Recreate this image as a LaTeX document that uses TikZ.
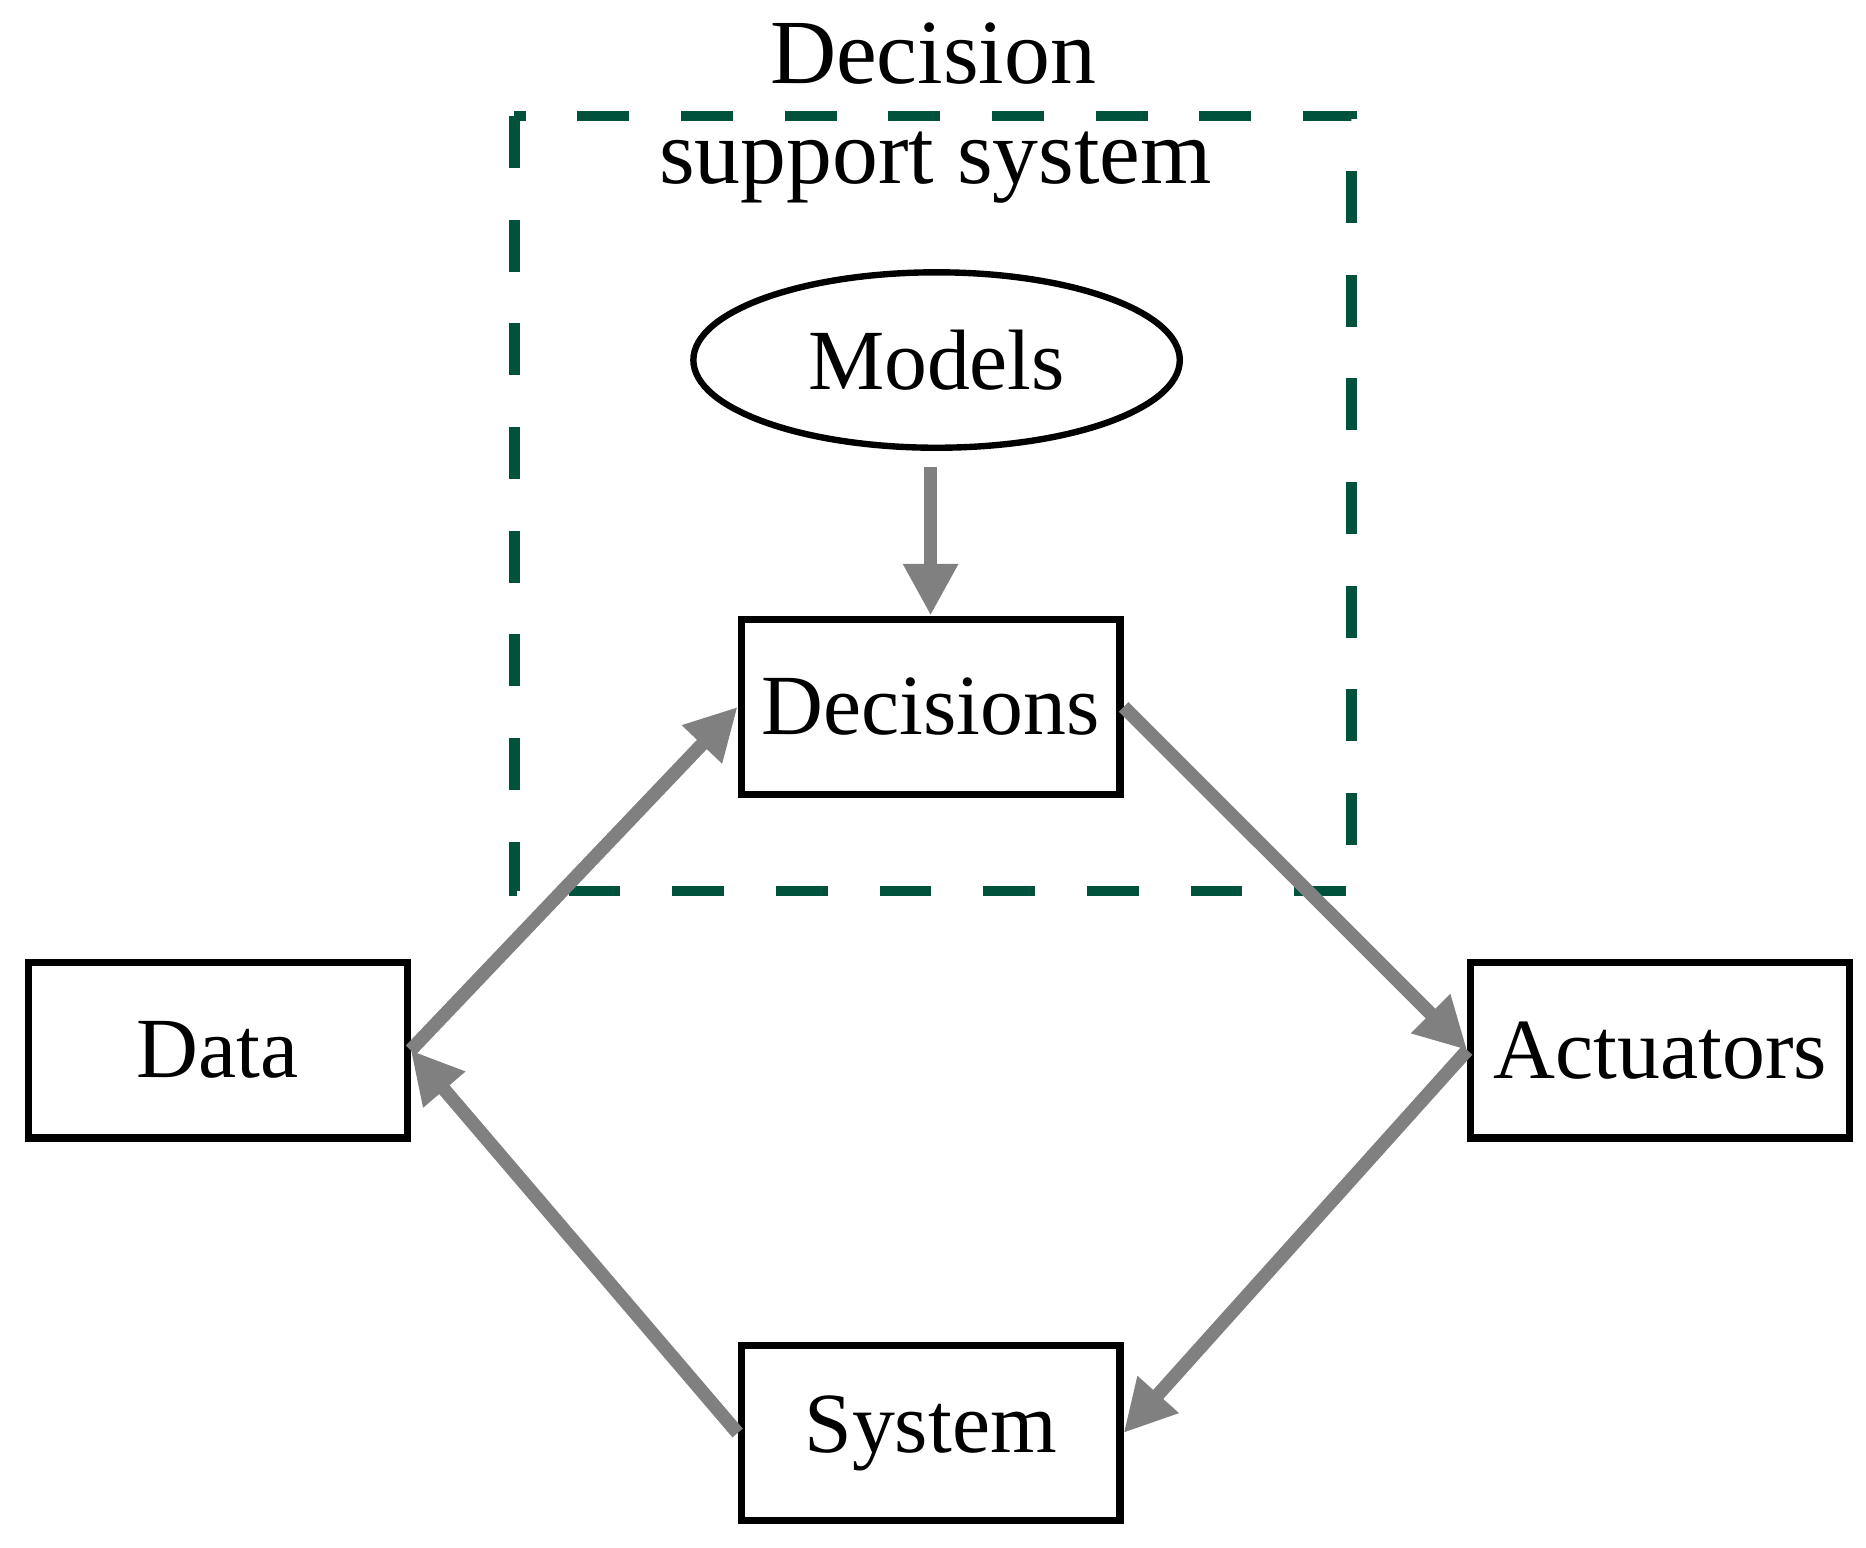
\documentclass[tikz,border=0pt]{standalone}
\usepackage{fontspec}
\setmainfont{Liberation Serif}
\usetikzlibrary{shapes.geometric,arrows.meta}
\definecolor{dgreen}{RGB}{0,82,60}
\definecolor{agray}{RGB}{128,128,128}
\begin{document}
\begin{tikzpicture}[x=0.3pt,y=-0.3pt,
  box/.style={draw,line width=1.8pt,minimum width=95pt,minimum height=44pt,inner sep=0pt,font=\fontsize{21.5}{24}\selectfont},
  arr/.style={draw=agray,line width=3.4pt,-{Triangle[length=13pt,width=13pt]}},
  lbl/.style={font=\fontsize{21.5}{24}\selectfont},
  ttl/.style={font=\fontsize{23}{26}\selectfont}]
\useasboundingbox (0,0) rectangle (1560,1294);
\draw[dgreen,line width=2.6pt,dash pattern=on 13pt off 13pt] (430,97) rectangle (1130,745);
\node[ttl] (t1) at (780,45) {Decision};
\node[ttl] (t2) at (782,140) {support system};
\node[draw,ellipse,line width=1.6pt,minimum width=122pt,minimum height=44pt,lbl] (models) at (783,301) {Models};
\node[box] (dec) at (778,591) {Decisions};
\node[box] (data) at (182,878) {Data};
\node[box] (act) at (1388,878) {Actuators};
\node[box] (sys) at (778,1198) {System};
\draw[arr] ([yshift=-4pt]models.south -| dec.north) -- (dec.north);
\draw[arr] (data.east) -- (dec.west);
\draw[arr] (dec.east) -- (act.west);
\draw[arr] (act.west) -- (sys.east);
\draw[arr] (sys.west) -- (data.east);
\end{tikzpicture}
\end{document}
